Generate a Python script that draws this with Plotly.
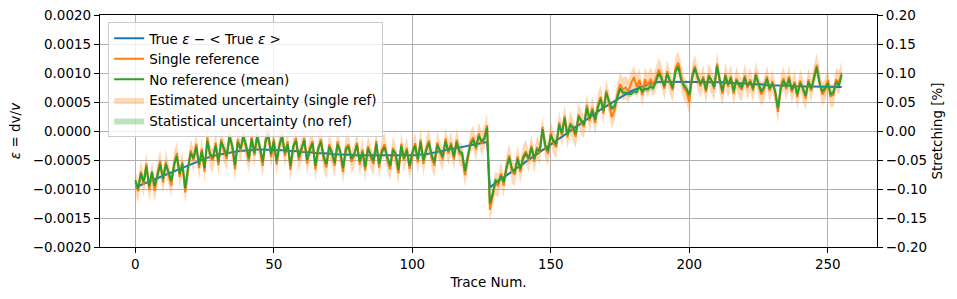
import plotly.graph_objects as go

UNIT = 1e-4  # values below are in units of 1e-4

trace_num = list(range(256))

true_eps = [
    -9.7,-9.5,-9.3,-9.1,-8.9,-8.7,-8.5,-8.3,-8.1,-7.9,-7.7,-7.5,-7.3,-7.1,-6.9,-6.7,-6.5,-6.3,-6.1,-5.9,
    -5.7,-5.5,-5.3,-5.1,-4.9,-4.8,-4.6,-4.5,-4.3,-4.2,-4.1,-4.0,-3.9,-3.8,-3.7,-3.6,-3.5,-3.5,-3.4,-3.4,
    -3.3,-3.3,-3.3,-3.2,-3.2,-3.2,-3.2,-3.2,-3.2,-3.2,-3.3,-3.3,-3.3,-3.3,-3.4,-3.4,-3.4,-3.5,-3.5,-3.5,
    -3.6,-3.6,-3.7,-3.7,-3.7,-3.8,-3.8,-3.8,-3.9,-3.9,-3.9,-4.0,-4.0,-4.0,-4.0,-4.1,-4.1,-4.1,-4.1,-4.2,
    -4.2,-4.2,-4.2,-4.2,-4.3,-4.3,-4.3,-4.3,-4.3,-4.3,-4.3,-4.3,-4.3,-4.3,-4.3,-4.3,-4.2,-4.2,-4.2,-4.2,
    -4.2,-4.2,-4.1,-4.1,-4.0,-4.0,-3.9,-3.8,-3.8,-3.7,-3.6,-3.5,-3.4,-3.3,-3.2,-3.1,-3.0,-2.9,-2.8,-2.7,
    -2.6,-2.5,-2.4,-2.3,-2.2,-2.1,-2.0,-1.9,
    -9.8,-9.3,-9.0,-8.6,-8.3,-8.0,-7.6,-7.3,-7.0,-6.6,-6.3,-6.0,-5.6,-5.3,-5.0,-4.6,-4.3,-4.0,-3.6,-3.3,
    -3.0,-2.6,-2.3,-2.0,-1.6,-1.3,-1.0,-0.6,-0.3,0.0,0.4,0.7,1.0,1.4,1.7,2.0,2.4,2.7,3.0,3.4,
    3.7,4.0,4.3,4.6,4.9,5.2,5.5,5.8,6.1,6.4,6.6,6.9,7.1,7.3,7.5,7.7,7.9,8.0,8.2,8.3,8.4,8.5,
    8.5,8.5,8.5,8.5,8.5,8.5,8.5,8.5,8.5,8.5,8.5,8.5,8.5,8.5,8.5,8.4,8.4,8.4,8.4,8.4,
    8.4,8.4,8.4,8.3,8.3,8.3,8.3,8.2,8.2,8.2,8.2,8.1,8.1,8.1,8.0,8.0,8.0,8.0,7.9,7.9,
    7.9,7.9,7.8,7.8,7.8,7.8,7.8,7.8,7.7,7.7,7.7,7.7,7.7,7.7,7.7,7.7,7.7,7.7,7.7,7.6,7.6,7.6,7.6,7.6,7.6,7.6,
]

no_ref = [
    -8.5,-10.0,-7.3,-8.8,-6.1,-9.5,-7.0,-9.5,-7.7,-5.7,-8.3,-5.7,-7.1,-8.6,-5.9,-4.3,-7.4,-5.7,-9.9,-6.3,
    -3.8,-4.7,-2.7,-5.8,-3.5,-6.4,-1.7,-4.0,-4.6,-2.5,-5.3,-1.9,-3.0,-4.3,-1.0,-2.5,-5.9,-1.9,-3.1,-1.0,
    -2.5,-4.7,-1.4,-3.8,-1.0,-2.8,-5.3,-1.9,-0.6,-4.0,-1.8,-5.2,-2.6,-1.0,-3.8,-2.3,-6.0,-2.6,-1.7,-4.5,
    -3.0,-1.6,-5.0,-3.3,-2.1,-6.0,-3.0,-1.9,-4.4,-5.7,-2.7,-3.7,-5.5,-2.3,-3.5,-6.4,-3.2,-2.7,-4.8,-4.0,
    -2.4,-5.3,-3.6,-6.2,-3.0,-4.2,-5.2,-2.2,-5.7,-3.6,-2.8,-4.6,-6.0,-3.3,-3.9,-6.7,-2.6,-4.7,-3.3,-6.0,
    -3.7,-2.5,-4.9,-1.9,-5.1,-3.4,-2.0,-4.2,-5.4,-2.4,-3.4,-4.4,-1.8,-3.5,-2.4,-4.4,-1.9,-3.5,-3.8,-6.9,
    -4.4,-2.3,-1.5,-2.8,-0.8,-1.8,-1.4,0.6,
    -12.5,-10.8,-8.5,-8.9,-7.7,-8.8,-6.4,-4.6,-6.6,-7.0,-4.8,-6.6,-4.7,-3.9,-4.7,-2.9,-4.8,-3.2,-3.4,0.3,
    -2.5,-3.5,-0.7,-1.8,-2.3,1.1,-0.4,2.2,-0.7,1.0,0.7,-0.5,2.5,1.8,1.1,4.0,2.1,3.6,1.9,4.1,
    5.5,3.5,6.6,5.2,3.9,4.2,5.8,7.3,6.6,6.6,6.4,6.4,6.8,6.7,7.7,6.8,7.3,7.2,7.7,7.4,8.6,10.0,
    9.0,7.7,9.9,8.7,7.4,10.3,11.1,8.9,7.9,7.3,6.2,9.2,10.8,9.4,8.1,9.0,7.1,9.4,8.7,7.6,
    11.2,8.8,6.9,9.5,8.0,9.1,6.9,8.7,8.0,7.6,9.2,7.8,8.5,7.3,9.6,8.2,6.8,7.6,9.0,7.3,
    8.2,6.9,3.9,7.3,8.7,7.6,9.0,7.1,8.1,6.3,8.3,7.4,6.1,8.5,7.3,9.0,11.0,8.2,6.8,7.4,8.3,6.3,6.6,8.5,7.8,9.7,
]

single_ref = [
    -8.9,-10.4,-7.0,-9.3,-5.6,-10.2,-7.4,-10.3,-7.3,-5.2,-8.9,-5.3,-7.6,-9.4,-5.5,-3.8,-7.9,-5.3,-10.6,-6.7,
    -3.3,-5.1,-2.2,-6.4,-3.1,-7.0,-1.1,-4.4,-5.1,-2.0,-5.9,-1.4,-3.5,-4.8,-0.5,-2.9,-6.6,-1.4,-3.5,-0.6,
    -2.9,-5.3,-0.9,-4.2,-0.6,-3.3,-6.0,-1.5,-0.2,-4.5,-1.4,-5.8,-2.2,-0.6,-4.3,-1.8,-6.7,-3.0,-1.2,-5.0,
    -3.4,-1.2,-5.6,-2.9,-1.7,-6.6,-3.4,-1.4,-4.9,-6.3,-2.3,-4.1,-6.0,-1.8,-3.9,-7.1,-2.8,-2.3,-5.3,-4.4,
    -2.0,-5.8,-3.2,-6.8,-2.6,-4.6,-5.7,-1.7,-6.3,-3.2,-2.3,-5.0,-6.6,-2.9,-4.4,-7.3,-2.2,-5.1,-2.9,-6.5,
    -4.1,-2.1,-5.4,-1.5,-5.7,-3.0,-1.6,-4.7,-6.0,-2.0,-3.8,-4.9,-1.3,-3.9,-2.0,-4.9,-1.5,-3.9,-4.3,-7.6,
    -4.9,-1.9,-1.1,-3.2,-0.4,-2.2,-1.0,1.0,
    -13.6,-11.3,-8.9,-9.5,-7.3,-9.4,-6.0,-4.2,-7.1,-7.5,-4.4,-7.1,-4.3,-3.5,-5.2,-2.5,-5.3,-2.8,-3.8,0.7,
    -2.9,-4.0,-0.3,-2.2,-2.8,1.5,-0.8,2.6,-1.1,1.4,0.3,-1.0,2.9,1.4,0.7,4.5,1.7,4.0,1.4,4.5,
    5.9,3.0,7.0,4.8,2.4,3.6,6.3,8.0,7.2,7.5,6.9,8.2,9.3,7.6,8.8,6.2,8.9,7.8,9.0,7.8,9.3,10.6,
    9.4,7.3,10.3,8.3,7.0,10.8,11.8,9.3,7.4,6.8,4.9,9.6,11.2,9.0,7.7,9.4,6.7,9.8,8.3,7.2,
    11.6,8.4,6.4,9.9,7.6,9.5,6.4,9.1,7.6,7.1,9.6,7.4,8.9,6.9,10.0,7.8,6.3,7.2,9.4,6.9,
    8.6,6.5,3.3,7.7,9.1,7.2,9.4,6.7,8.5,5.8,8.7,7.0,5.6,8.9,6.9,9.5,11.4,8.6,6.3,7.0,8.8,6.0,6.2,8.9,8.3,10.1,
]

single_ref_unc = 2.0   # estimated uncertainty half-width (1e-4)
no_ref_unc = 0.5       # statistical uncertainty half-width (1e-4)

y_ticks = [-0.002, -0.0015, -0.001, -0.0005, 0.0, 0.0005, 0.001, 0.0015, 0.002]
y2_ticks = [-0.2, -0.15, -0.1, -0.05, 0.0, 0.05, 0.1, 0.15, 0.2]
x_ticks = [0, 50, 100, 150, 200, 250]

BLUE = "#1f77b4"
ORANGE = "#ff7f0e"
GREEN = "#2ca02c"
FONT = "DejaVu Sans"
FS = 13.5

t = [v * UNIT for v in true_eps]
g = [v * UNIT for v in no_ref]
o = [v * UNIT for v in single_ref]
o_hi = [v + single_ref_unc * UNIT for v in o]
o_lo = [v - single_ref_unc * UNIT for v in o]
g_hi = [v + no_ref_unc * UNIT for v in g]
g_lo = [v - no_ref_unc * UNIT for v in g]

band_x = trace_num + trace_num[::-1]

fig = go.Figure()
fig.add_trace(go.Scatter(x=band_x, y=o_hi + o_lo[::-1], mode="lines",
                         line=dict(width=1, color="rgba(255,127,14,0.0)"),
                         fill="toself", fillcolor="rgba(255,127,14,0.3)",
                         name="Estimated uncertainty (single ref)", legendrank=4, hoverinfo="skip"))
fig.add_trace(go.Scatter(x=band_x, y=g_hi + g_lo[::-1], mode="lines",
                         line=dict(width=1, color="rgba(44,160,44,0.0)"),
                         fill="toself", fillcolor="rgba(44,160,44,0.3)",
                         name="Statistical uncertainty (no ref)", legendrank=5, hoverinfo="skip"))
fig.add_trace(go.Scatter(x=trace_num, y=t, mode="lines", line=dict(color=BLUE, width=2),
                         name="True <i>ε</i> − &lt; True <i>ε</i> &gt;", legendrank=1))
fig.add_trace(go.Scatter(x=trace_num, y=o, mode="lines", line=dict(color=ORANGE, width=2),
                         name="Single reference", legendrank=2))
fig.add_trace(go.Scatter(x=trace_num, y=g, mode="lines", line=dict(color=GREEN, width=2),
                         name="No reference (mean)", legendrank=3))
# stretching in percent on the secondary axis (same curve, invisible)
fig.add_trace(go.Scatter(x=trace_num, y=[v * 100 for v in t], yaxis="y2", mode="lines",
                         line=dict(width=0, color="rgba(0,0,0,0)"), showlegend=False,
                         hoverinfo="skip"))

axis_common = dict(showline=True, linecolor="black", linewidth=1.2, ticks="outside",
                   ticklen=5, tickcolor="black", tickfont=dict(family=FONT, size=FS, color="black"),
                   zeroline=False, automargin=False)

fig.update_layout(
    width=957, height=299,
    margin=dict(l=100, r=80, t=15, b=52, autoexpand=False),
    plot_bgcolor="white", paper_bgcolor="white",
    font=dict(family=FONT, size=FS, color="black"),
    xaxis=dict(range=[-12.75, 267.75], tickvals=x_ticks, showgrid=True, gridcolor="#b0b0b0",
               gridwidth=1, mirror=True,
               title=dict(text="Trace Num.", font=dict(family=FONT, size=FS), standoff=6),
               **axis_common),
    yaxis=dict(range=[-0.002, 0.002], tickvals=y_ticks, tickformat=".4f", showgrid=True,
               gridcolor="#b0b0b0", gridwidth=1, mirror=False,
               title=dict(text="<i>ε</i> = dv/<i>v</i>", font=dict(family=FONT, size=FS), standoff=8),
               **axis_common),
    yaxis2=dict(range=[-0.2, 0.2], tickvals=y2_ticks, tickformat=".2f", overlaying="y",
                side="right", showgrid=False,
                title=dict(text="Stretching [%]", font=dict(family=FONT, size=FS), standoff=6),
                **axis_common),
    legend=dict(x=0.0105, y=0.97, xanchor="left", yanchor="top", traceorder="normal",
                bgcolor="rgba(255,255,255,0.8)", bordercolor="#cccccc", borderwidth=1,
                font=dict(family=FONT, size=FS), tracegroupgap=0, itemwidth=30),
    showlegend=True,
)

fig.write_html("out.html")
